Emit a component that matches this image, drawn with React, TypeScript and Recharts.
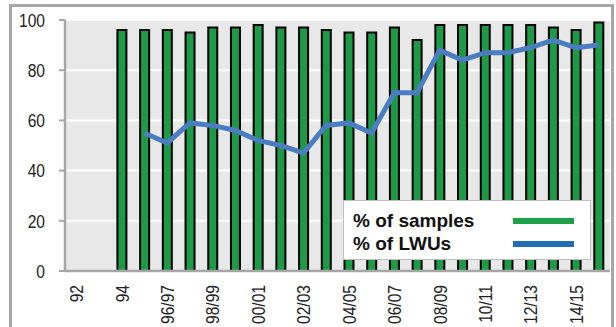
import { ComposedChart, Bar, Line, XAxis, YAxis, CartesianGrid, Legend } from "recharts";

// Survey years (financial years from 95/96 on)
const YEARS = [
  "92", "93", "94", "95/96", "96/97", "97/98", "98/99", "99/00",
  "00/01", "01/02", "02/03", "03/04", "04/05", "05/06", "06/07", "07/08",
  "08/09", "09/10", "10/11", "11/12", "12/13", "13/14", "14/15", "15/16",
];

// % of samples analysed (no data before 94)
const SAMPLES = [
  null, null, 96, 96, 96, 95, 97, 97,
  98, 97, 97, 96, 95, 95, 97, 92,
  98, 98, 98, 98, 98, 97, 96, 99,
];

// % of LWUs reporting (starts in 95/96)
const LWUS = [
  null, null, null, 55, 51, 59, 58, 56,
  52, 50, 47, 58, 59, 55, 71, 71,
  88, 84, 87, 87, 89, 92, 89, 90,
];

const Y_TICKS = [0, 20, 40, 60, 80, 100];

const GREEN = "#1e9a47";
const BLUE = "#4a7dc1";
const AXIS = "#a6a6a6";
const FONT = "'Liberation Sans', Arial, sans-serif";
// squeeze regular Arial-metric glyphs to look like a narrow face
const NARROW_SCALE = 0.82;

const data = YEARS.map((year, i) => ({ year, samples: SAMPLES[i], lwus: LWUS[i] }));

function YearTick({ x, y, payload }: any) {
  const ty = y + 6;
  return (
    <text
      x={0}
      y={0}
      dy="0.36em"
      transform={`translate(${x} ${ty}) rotate(-90) scale(${NARROW_SCALE} 1)`}
      textAnchor="end"
      fontFamily={FONT}
      fontSize={19}
      fill="#222"
    >
      {payload.value}
    </text>
  );
}

function ValueTick({ x, y, payload }: any) {
  return (
    <text
      x={0}
      y={0}
      dy="0.36em"
      transform={`translate(${x} ${y}) scale(${NARROW_SCALE} 1)`}
      textAnchor="end"
      fontFamily={FONT}
      fontSize={19}
      fill="#222"
    >
      {payload.value}
    </text>
  );
}

function LegendBox() {
  const row = (label: string, color: string, top: number) => (
    <div style={{ position: "absolute", left: 0, top, width: "100%", height: 22 }}>
      <span
        style={{
          position: "absolute",
          left: 9,
          top: 0,
          lineHeight: "22px",
          fontFamily: FONT,
          fontWeight: 700,
          fontSize: 19,
          color: "#111",
          whiteSpace: "nowrap",
        }}
      >
        {label}
      </span>
      <div style={{ position: "absolute", left: 169, top: 8, width: 61, height: 6, background: color }} />
    </div>
  );
  return (
    <div
      style={{
        position: "relative",
        width: 246,
        height: 58,
        background: "#fff",
        border: "1.5px solid #bfbfbf",
      }}
    >
      {row("% of samples", "#20a04b", 9)}
      {row("% of LWUs", "#1f6eb6", 32)}
    </div>
  );
}

export default function App() {
  return (
    <div style={{ position: "absolute", left: 0, top: 0, width: 616, height: 327, overflow: "hidden", background: "#fff" }}>
      <div
        style={{
          position: "absolute",
          left: 9,
          top: 4,
          width: 599,
          height: 340,
          border: `3px solid ${AXIS}`,
        }}
      />
      <div style={{ position: "absolute", left: 0, top: 0 }}>
        <ComposedChart width={616} height={327} data={data} margin={{ top: 20, right: 6, bottom: 6, left: 0 }}>
          <CartesianGrid vertical={false} fill="#e8e8e8" stroke="#ffffff" strokeWidth={2} />
          <XAxis
            dataKey="year"
            interval={1}
            height={50}
            tickLine={false}
            axisLine={{ stroke: AXIS, strokeWidth: 2.5 }}
            tick={<YearTick />}
          />
          <YAxis
            domain={[0, 100]}
            ticks={Y_TICKS}
            width={65}
            tickSize={6}
            tickMargin={14}
            tickLine={{ stroke: AXIS, strokeWidth: 2 }}
            axisLine={{ stroke: AXIS, strokeWidth: 2.5 }}
            tick={<ValueTick />}
          />
          <Legend
            verticalAlign="middle"
            content={() => <LegendBox />}
            wrapperStyle={{ position: "absolute", left: 343, top: 200, width: 249, height: 61 }}
          />
          <Bar dataKey="samples" name="% of samples" barSize={9} fill={GREEN} stroke="#000" strokeWidth={2} isAnimationActive={false} />
          <Line
            dataKey="lwus"
            name="% of LWUs"
            type="linear"
            stroke={BLUE}
            strokeWidth={5}
            dot={false}
            activeDot={false}
            isAnimationActive={false}
          />
        </ComposedChart>
      </div>
    </div>
  );
}
